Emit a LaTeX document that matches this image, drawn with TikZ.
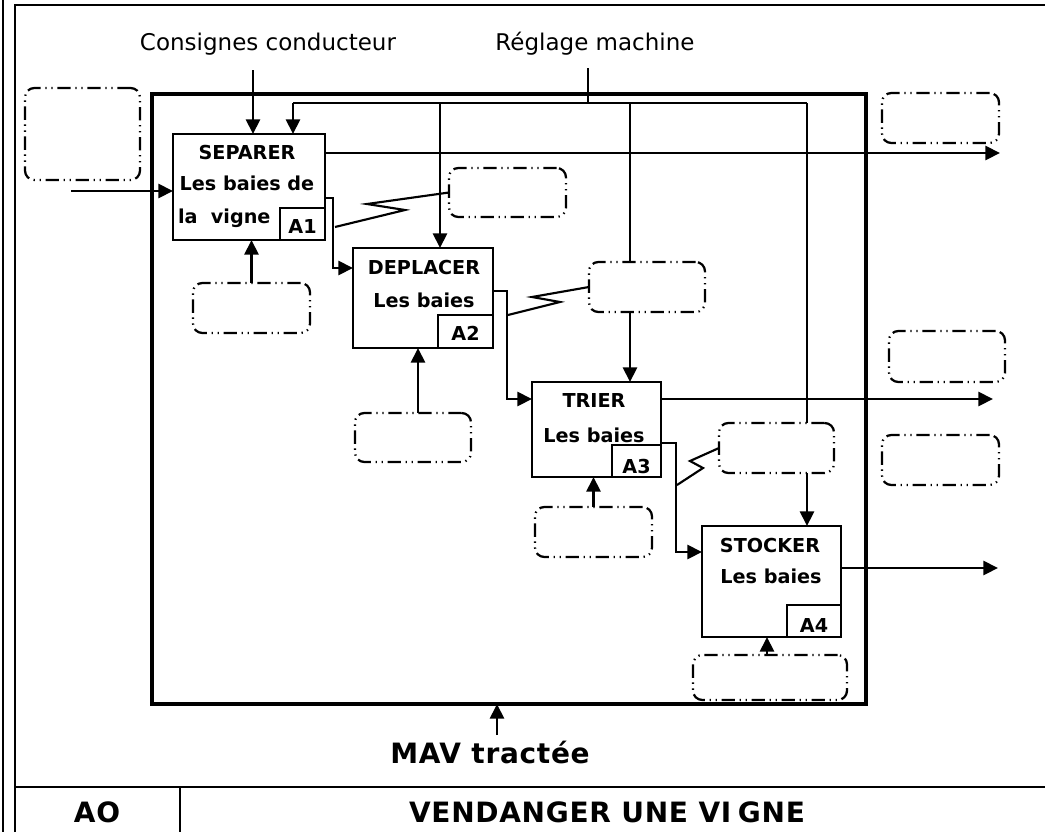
\documentclass[tikz,border=0pt]{standalone}
\usepackage{fontspec}
\setmainfont{DejaVu Sans}
\newfontfamily\titlefont[LetterSpace=2.5]{DejaVu Sans}
\usetikzlibrary{arrows.meta,calc}
\begin{document}
\begin{tikzpicture}[x=0.75pt,y=-0.75pt,
  every node/.style={inner sep=0pt,outer sep=0pt},
  mainbox/.style={draw,line width=3.4pt},
  pbox/.style={draw,line width=2.2pt},
  ibox/.style={draw,line width=1.8pt},
  dbox/.style={draw,line width=1.7pt,rounded corners=7pt,dash pattern=on 10pt off 3.5pt on 1pt off 3.5pt on 1pt off 3.5pt},
  arr/.style={line width=2.1pt,-{Triangle[length=11pt,width=10.5pt]}},
  ln/.style={line width=2.1pt},
  zz/.style={line width=1.6pt},
  lbl/.style={font=\fontsize{17.25}{20}\selectfont},
  btxt/.style={font=\fontsize{14.4}{17}\selectfont\bfseries},
  ttl/.style={font=\titlefont\fontsize{21}{25}\selectfont\bfseries}
]
\useasboundingbox (0,0) rectangle (1045,832);
\fill[white] (0,0) rectangle (1045,832);

% outer frame
\draw[line width=1.6pt] (3,0) -- (3,832);
\draw[line width=1.6pt] (15,832) -- (15,5) -- (1045,5);
\draw[line width=1.6pt] (15,787) -- (1045,787);
\draw[line width=1.2pt] (180,787) -- (180,832);

% main box
\node[mainbox,minimum width=535.5pt,minimum height=457.5pt] (main) at (509,399) {};

% process boxes
\node[pbox,minimum width=114pt,minimum height=79.5pt] (sep) at (249,187) {};
\node[ibox,minimum width=33.75pt,minimum height=24pt] (a1) at (302.5,224) {};
\node[pbox,minimum width=105pt,minimum height=75pt] (dep) at (423,298) {};
\node[ibox,minimum width=41.25pt,minimum height=24.75pt] (a2) at (465.5,331.5) {};
\node[pbox,minimum width=96.75pt,minimum height=71.25pt] (tri) at (596.5,429.5) {};
\node[ibox,minimum width=36.75pt,minimum height=24pt] (a3) at (636.5,461) {};
\node[pbox,minimum width=104.25pt,minimum height=83.25pt] (sto) at (771.5,581.5) {};
\node[ibox,minimum width=40.5pt,minimum height=24pt] (a4) at (814,621) {};

% texts in boxes
\node[btxt,anchor=base] at (247,159) {SEPARER};
\node[btxt,anchor=base] at (247,190) {Les baies de};
\node[btxt,anchor=base west] at (178,223) {la\ \ vigne};
\node[btxt,anchor=base] at (302.5,233) {A1};
\node[btxt,anchor=base] at (424,274) {DEPLACER};
\node[btxt,anchor=base] at (424,307) {Les baies};
\node[btxt,anchor=base] at (465.5,340) {A2};
\node[btxt,anchor=base] at (594,407) {TRIER};
\node[btxt,anchor=base] at (594,442) {Les baies};
\node[btxt,anchor=base] at (636.5,473) {A3};
\node[btxt,anchor=base] at (770,552) {STOCKER};
\node[btxt,anchor=base] at (771,583) {Les baies};
\node[btxt,anchor=base] at (814,632) {A4};

% dashed annotation boxes
\node[dbox,minimum width=86.25pt,minimum height=69pt] (d0) at (82.5,134) {};
\node[dbox,minimum width=87.75pt,minimum height=36.75pt] (d1) at (507.5,192.5) {};
\node[dbox,minimum width=87pt,minimum height=37.5pt] (d2) at (647,287) {};
\node[dbox,minimum width=86.25pt,minimum height=37.5pt] (d3) at (776.5,448) {};
\node[dbox,minimum width=87.75pt,minimum height=37.5pt] (m1) at (251.5,308) {};
\node[dbox,minimum width=87pt,minimum height=36.75pt] (m2) at (413,437.5) {};
\node[dbox,minimum width=87.75pt,minimum height=37.5pt] (m3) at (593.5,532) {};
\node[dbox,minimum width=115.5pt,minimum height=33.75pt] (m4) at (770,677.5) {};
\node[dbox,minimum width=87.75pt,minimum height=37.5pt] (r1) at (940.5,118) {};
\node[dbox,minimum width=87pt,minimum height=38.25pt] (r2) at (947,356.5) {};
\node[dbox,minimum width=87.75pt,minimum height=37.5pt] (r3) at (940.5,460) {};

% top labels
\node[lbl,anchor=base] (cons) at (268,50) {Consignes conducteur};
\node[lbl,anchor=base] (regl) at (595,50) {Réglage machine};

% controls
\coordinate (c1) at (253,70);
\draw[arr] (c1) -- (c1 |- sep.north);
\coordinate (r0) at (588,68);
\coordinate (rb) at (588,103);
\draw[line width=1.3pt] (r0) -- (rb);
\coordinate (bL) at (293,103);
\coordinate (bR) at (807,103);
\coordinate (b2) at (440,103);
\coordinate (b3) at (630,103);
\draw[line width=1.7pt] (bL) -- (bR);
\draw[arr] (bL) -- (bL |- sep.north);
\draw[arr] (b2) -- (b2 |- dep.north);
\draw[ln] (b3) -- (b3 |- d2.north);
\draw[arr] (b3 |- d2.south) -- (b3 |- tri.north);
\draw[ln] (bR) -- (bR |- d3.north);
\draw[arr] (bR |- d3.south) -- (bR |- sto.north);

% input / outputs
\coordinate (in1) at (71,191);
\draw[arr] (in1) -- (in1 -| sep.west);
\coordinate (o1) at (1000,153);
\draw[arr] (o1 -| sep.east) -- (o1);
\coordinate (o2) at (993,399);
\draw[arr] (o2 -| tri.east) -- (o2);
\coordinate (o3) at (998,568);
\draw[arr] (o3 -| sto.east) -- (o3);

% flows between boxes
\coordinate (s1) at (333,198);
\coordinate (s2) at (333,268);
\draw[arr] (s1 -| sep.east) -- (s1) -- (s2) -- (s2 -| dep.west);
\coordinate (p1) at (507,291);
\coordinate (p2) at (507,399);
\draw[arr] (p1 -| dep.east) -- (p1) -- (p2) -- (p2 -| tri.west);
\coordinate (t1) at (676,443);
\coordinate (t2) at (676,552);
\draw[arr] (t1 -| tri.east) -- (t1) -- (t2) -- (t2 -| sto.west);

% zigzag links
\coordinate (z1) at (335,227);
\draw[zz] (z1) -- (405,210) -- (367,204) -- (d1.west);
\coordinate (z2) at (508,315);
\draw[zz] (z2) -- (560,302) -- (532,297) -- (d2.west);
\coordinate (z3) at (677,485);
\draw[zz] (z3) -- (703,468) -- (690,461) -- (d3.west);

% mechanisms
\draw[arr] (m1.north) -- (m1.north |- sep.south);
\coordinate (a2m) at (418,413);
\draw[arr] (a2m) -- (a2m |- dep.south);
\draw[arr] (m3.north) -- (m3.north |- tri.south);
\coordinate (a4m) at (767,655);
\draw[arr] (a4m) -- (a4m |- sto.south);

% MAV
\coordinate (mav) at (497,735);
\draw[arr] (mav) -- (mav |- main.south);
\node[ttl,anchor=base] (mavt) at (490,763) {MAV tractée};

% title row
\node[ttl,anchor=base] (ao) at (97,822) {AO};
\node[ttl,anchor=base] (title) at (607,822) {VENDANGER UNE VI\kern5pt GNE};
\end{tikzpicture}
\end{document}
